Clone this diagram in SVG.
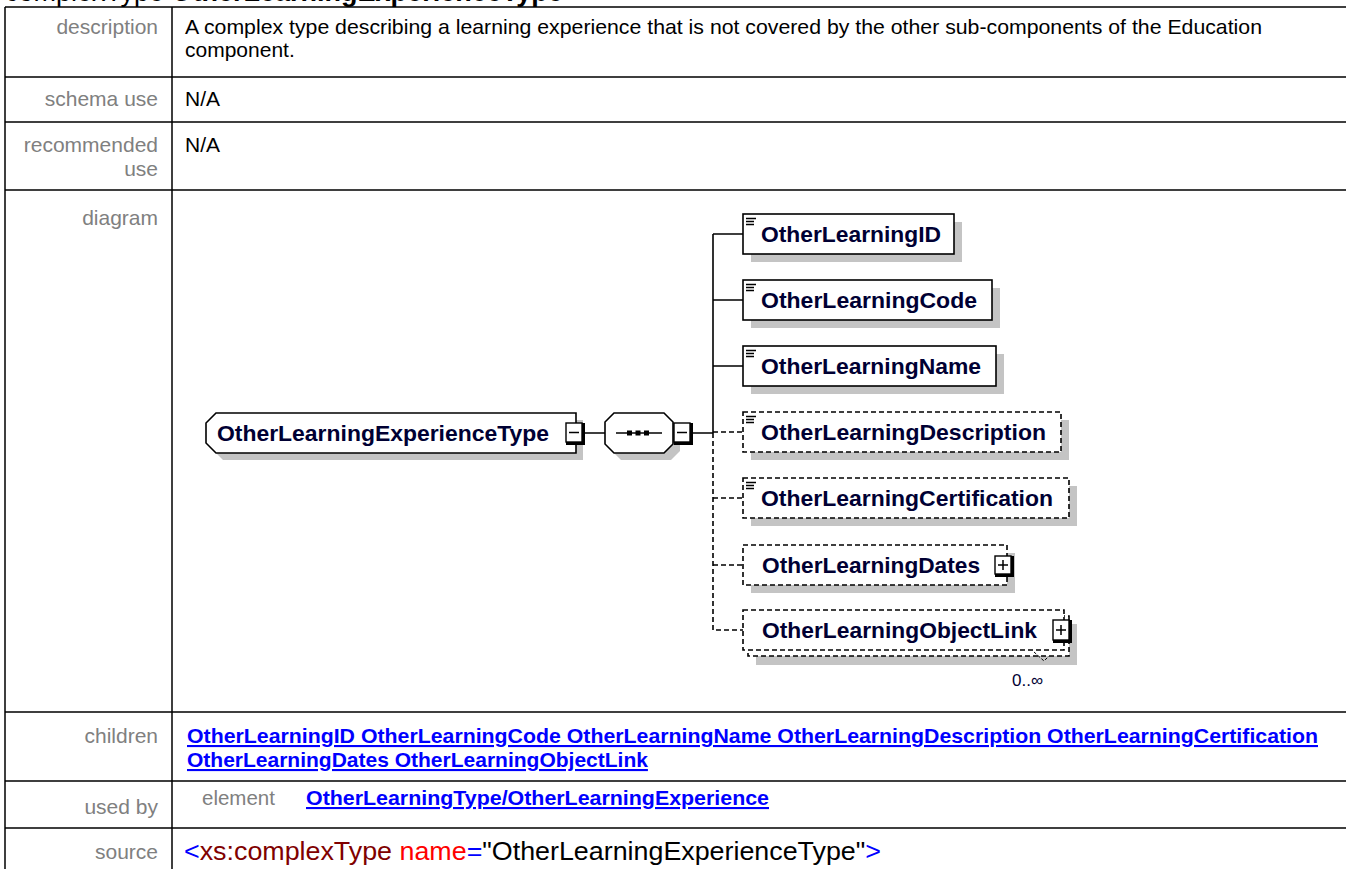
<svg xmlns="http://www.w3.org/2000/svg" width="1346" height="869" viewBox="0 0 1346 869">
<style>
.lbl{font-family:"Liberation Sans",Arial,sans-serif;font-size:21px;fill:#808080;text-anchor:end}
.txt{font-family:"Liberation Sans",Arial,sans-serif;font-size:21px;fill:#000}
.lnk{font-family:"Liberation Sans",Arial,sans-serif;font-size:21px;font-weight:bold;fill:#0000ff;text-decoration:underline}
.tl{stroke:#000;stroke-width:1.5;fill:none}
.nm{font-family:"Liberation Sans",Arial,sans-serif;font-size:21.5px;font-weight:bold;fill:#000033}
.box{fill:#fff;stroke:#000;stroke-width:1.6}
.dbox{fill:#fff;stroke:#000;stroke-width:1.6;stroke-dasharray:5,3}
.sh{fill:#c4c4c4}
.ic{stroke:#000;stroke-width:1.4}
.btn{fill:#fff;stroke:#000;stroke-width:1.4}
.bth{fill:none;stroke:#000;stroke-width:3}
.sgn{stroke:#000;stroke-width:1.5}
</style>

<g id="title">
<text x="5" y="1" style="font-family:'Liberation Sans',Arial,sans-serif;font-size:27px;fill:#000">complexType <tspan font-weight="bold">OtherLearningExperienceType</tspan></text>
</g>

<g id="table">
<path class="tl" d="M5,7 H1346 M5,7 V869 M172,7 V869 M5,77 H1346 M5,122 H1346 M5,190 H1346 M5,712 H1346 M5,781 H1346 M5,828 H1346"/>
<text class="lbl" x="158" y="34">description</text>
<text class="txt" x="185" y="34" textLength="1077" lengthAdjust="spacingAndGlyphs">A complex type describing a learning experience that is not covered by the other sub-components of the Education</text>
<text class="txt" x="185" y="57">component.</text>
<text class="lbl" x="158" y="106">schema use</text>
<text class="txt" x="185" y="106">N/A</text>
<text class="lbl" x="158" y="152">recommended</text>
<text class="lbl" x="158" y="176">use</text>
<text class="txt" x="185" y="152">N/A</text>
<text class="lbl" x="158" y="225">diagram</text>
<text class="lbl" x="158" y="743">children</text>
<text class="lnk" x="187" y="743" textLength="1131" lengthAdjust="spacingAndGlyphs">OtherLearningID OtherLearningCode OtherLearningName OtherLearningDescription OtherLearningCertification</text>
<text class="lnk" x="187" y="767">OtherLearningDates OtherLearningObjectLink</text>
<text class="lbl" x="158" y="814">used by</text>
<text class="lbl" x="202" y="805" style="text-anchor:start;font-size:20.5px">element</text>
<text class="lnk" x="306" y="805" textLength="463" lengthAdjust="spacingAndGlyphs">OtherLearningType/OtherLearningExperience</text>
<text class="lbl" x="158" y="859">source</text>
<text x="184" y="860" textLength="697" lengthAdjust="spacingAndGlyphs" style="font-family:'Liberation Sans',Arial,sans-serif;font-size:26px"><tspan fill="#0000ff">&lt;</tspan><tspan fill="#800000">xs:complexType</tspan><tspan fill="#000"> </tspan><tspan fill="#ff0000">name</tspan><tspan fill="#0000ff">=</tspan><tspan fill="#000">"OtherLearningExperienceType"</tspan><tspan fill="#0000ff">&gt;</tspan></text>
</g>

<g id="connectors" fill="none" stroke="#000" stroke-width="1.6">
<path d="M584,433 H605 M693,433 H713 M713,234 V433 M713,234 H743 M713,300 H743 M713,366 H743"/>
<path stroke-dasharray="5,3" d="M713,433 V630 H743 M713,432 H743 M713,498 H743 M713,565 H743"/>
</g>

<g id="OtherLearningExperienceType">
<path class="sh" d="M223,420 H583 V460 H223 L213,450 V430 Z"/>
<path class="box" d="M216,413 H576 V453 H216 L206,443 V423 Z"/>
<text class="nm" x="217" y="441" textLength="332" lengthAdjust="spacingAndGlyphs">OtherLearningExperienceType</text>
<rect class="btn" x="566" y="423" width="16" height="19"/>
<path class="bth" d="M583.5,423 V443.5 H566"/>
<line class="sgn" x1="569" y1="432.5" x2="579" y2="432.5"/>
</g>

<g id="sequence">
<path class="sh" d="M621,420 H671 L680,429 V451 L671,460 H621 L612,451 V429 Z"/>
<path class="box" d="M614,413 H664 L673,422 V444 L664,453 H614 L605,444 V422 Z"/>
<line x1="616" y1="433" x2="662" y2="433" stroke="#000" stroke-width="1.6"/>
<rect x="627" y="430.5" width="5" height="5" fill="#000"/>
<rect x="635.5" y="430.5" width="5" height="5" fill="#000"/>
<rect x="644" y="430.5" width="5" height="5" fill="#000"/>
<rect class="btn" x="674" y="423" width="16" height="19"/>
<path class="bth" d="M691.5,423 V443.5 H674"/>
<line class="sgn" x1="677" y1="432.5" x2="687" y2="432.5"/>
</g>

<g id="OtherLearningID">
<rect class="sh" x="751" y="222" width="211" height="40"/>
<rect class="box" x="743" y="214" width="211" height="40"/>
<path class="ic" d="M746,218.5 H756 M746,221.5 H754 M746,224.5 H754"/>
<text class="nm" x="761" y="241.5" textLength="180" lengthAdjust="spacingAndGlyphs">OtherLearningID</text>
</g>

<g id="OtherLearningCode">
<rect class="sh" x="751" y="288" width="249" height="40"/>
<rect class="box" x="743" y="280" width="249" height="40"/>
<path class="ic" d="M746,284.5 H756 M746,287.5 H754 M746,290.5 H754"/>
<text class="nm" x="761" y="307.5" textLength="216" lengthAdjust="spacingAndGlyphs">OtherLearningCode</text>
</g>

<g id="OtherLearningName">
<rect class="sh" x="751" y="354" width="253" height="40"/>
<rect class="box" x="743" y="346" width="253" height="40"/>
<path class="ic" d="M746,350.5 H756 M746,353.5 H754 M746,356.5 H754"/>
<text class="nm" x="761" y="373.5" textLength="220" lengthAdjust="spacingAndGlyphs">OtherLearningName</text>
</g>

<g id="OtherLearningDescription">
<rect class="sh" x="751" y="420" width="318" height="40"/>
<rect class="dbox" x="743" y="412" width="318" height="40"/>
<path class="ic" d="M746,416.5 H756 M746,419.5 H754 M746,422.5 H754"/>
<text class="nm" x="761" y="439.5" textLength="285" lengthAdjust="spacingAndGlyphs">OtherLearningDescription</text>
</g>

<g id="OtherLearningCertification">
<rect class="sh" x="751" y="486" width="326" height="40"/>
<rect class="dbox" x="743" y="478" width="326" height="40"/>
<path class="ic" d="M746,482.5 H756 M746,485.5 H754 M746,488.5 H754"/>
<text class="nm" x="761" y="505.5" textLength="292" lengthAdjust="spacingAndGlyphs">OtherLearningCertification</text>
</g>

<g id="OtherLearningDates">
<rect class="sh" x="751" y="553" width="264" height="40"/>
<rect class="dbox" x="743" y="545" width="264" height="40"/>
<text class="nm" x="762" y="572.5" textLength="218" lengthAdjust="spacingAndGlyphs">OtherLearningDates</text>
<rect class="btn" x="995" y="556" width="16" height="18"/>
<path class="bth" d="M1012.5,556 V575.5 H995"/>
<path class="sgn" d="M998,565 H1008 M1003,560 V570"/>
</g>

<g id="OtherLearningObjectLink">
<rect class="sh" x="756" y="624" width="321" height="41"/>
<rect class="dbox" x="748" y="616" width="321" height="40"/>
<rect class="dbox" x="743" y="610" width="321" height="40"/>
<text class="nm" x="762" y="637.5" textLength="275" lengthAdjust="spacingAndGlyphs">OtherLearningObjectLink</text>
<rect class="btn" x="1053" y="620" width="16" height="20"/>
<path class="bth" d="M1070.5,620 V641.5 H1053"/>
<path class="sgn" d="M1056,630 H1066 M1061,625 V635"/>
<polyline points="1034,652 1044,661 1049,656" fill="none" stroke="#000" stroke-width="1" stroke-dasharray="3,2"/>
<text x="1012" y="686" style="font-family:'Liberation Sans',Arial,sans-serif;font-size:17px;fill:#000033">0..∞</text>
</g>
</svg>
